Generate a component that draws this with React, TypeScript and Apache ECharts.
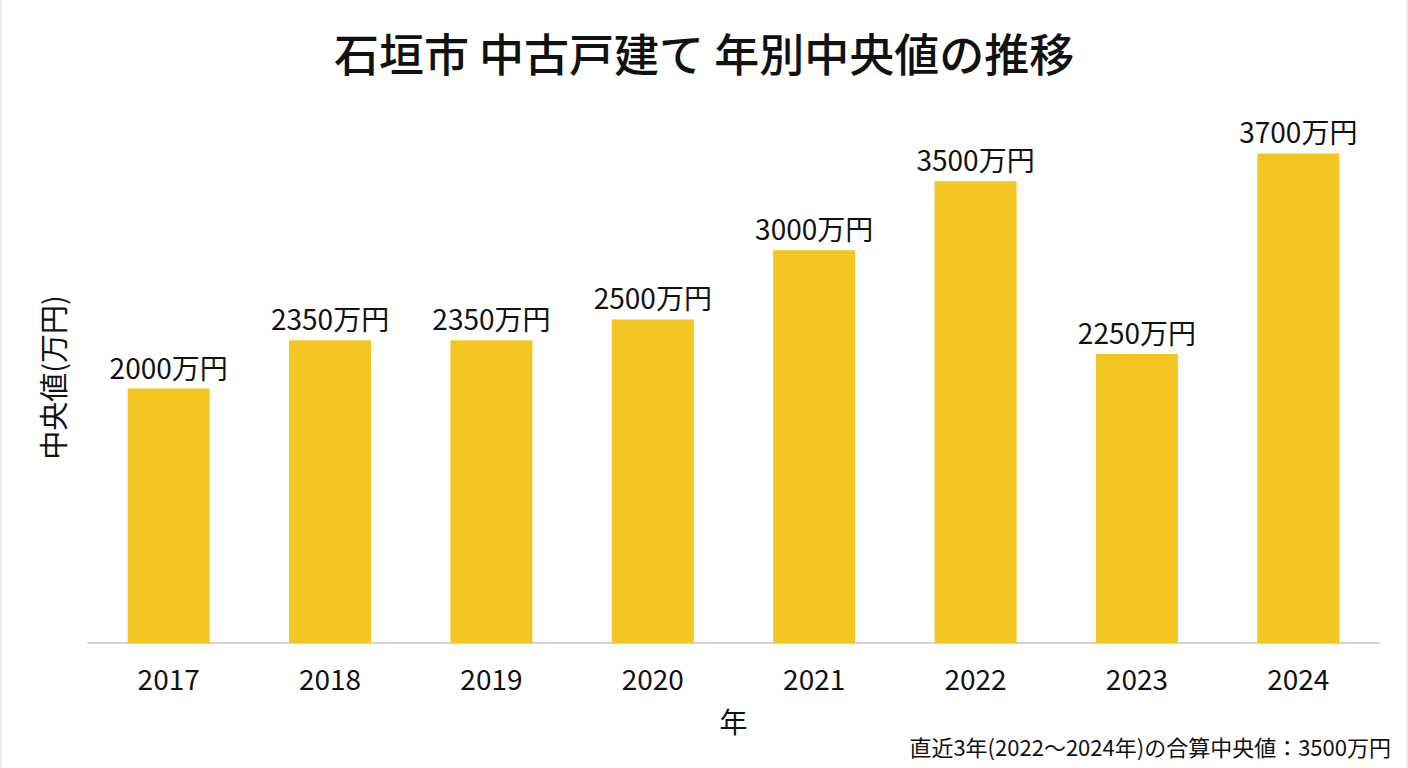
import React, { useEffect, useRef } from "react";
import * as echarts from "echarts";

const years = ["2017", "2018", "2019", "2020", "2021", "2022", "2023", "2024"];
const medians = [2000, 2350, 2350, 2500, 3000, 3500, 2250, 3700];
const titleText = "石垣市 中古戸建て 年別中央値の推移";
const yName = "中央値(万円)";
const xName = "年";
const noteText = "直近3年(2022〜2024年)の合算中央値：3500万円";

const FONT = "'Noto Sans CJK JP', 'Noto Sans', sans-serif";

export default function App() {
  const ref = useRef<HTMLDivElement>(null);
  useEffect(() => {
    if (!ref.current) return;
    const chart = echarts.init(ref.current, null, { renderer: "svg" });
    chart.setOption({
      animation: false,
      backgroundColor: "#ffffff",
      textStyle: { fontFamily: FONT },
      title: {
        text: titleText,
        left: "center",
        top: 25,
        textStyle: { fontSize: 45, fontWeight: 500, color: "#111111", fontFamily: FONT },
      },
      grid: { left: 86, right: 27, top: 112, bottom: 125 },
      xAxis: {
        type: "category",
        data: years,
        name: xName,
        nameLocation: "middle",
        nameGap: 64,
        nameTextStyle: { fontSize: 28, color: "#111111", fontFamily: FONT },
        axisLine: { show: true, lineStyle: { color: "#d4d4d4", width: 2 } },
        axisTick: { show: false },
        axisLabel: { fontSize: 28, color: "#111111", margin: 21, fontFamily: FONT },
      },
      yAxis: {
        type: "value",
        min: 160,
        max: 4000,
        name: yName,
        nameLocation: "middle",
        nameGap: 22,
        nameRotate: 90,
        nameTextStyle: { fontSize: 29, color: "#111111", fontFamily: FONT },
        axisLine: { show: false },
        axisTick: { show: false },
        axisLabel: { show: false },
        splitLine: { show: false },
      },
      series: [
        {
          type: "bar",
          data: medians,
          barWidth: 82,
          itemStyle: { color: "#F3C623" },
          label: {
            show: true,
            position: "top",
            distance: 8,
            formatter: (p: any) => `${p.value}万円`,
            fontSize: 28,
            color: "#111111",
            fontFamily: FONT,
          },
        },
      ],
      graphic: [
        {
          type: "text",
          right: 15,
          top: 735,
          style: { text: noteText, fontSize: 22, fill: "#111111", fontFamily: FONT },
        },
      ],
    });
    return () => chart.dispose();
  }, []);
  return (
    <div
      ref={ref}
      style={{
        position: "absolute",
        left: 0,
        top: 0,
        width: 1408,
        height: 768,
        boxSizing: "border-box",
        borderLeft: "2px solid #ececec",
        borderRight: "2px solid #ececec",
      }}
    />
  );
}
